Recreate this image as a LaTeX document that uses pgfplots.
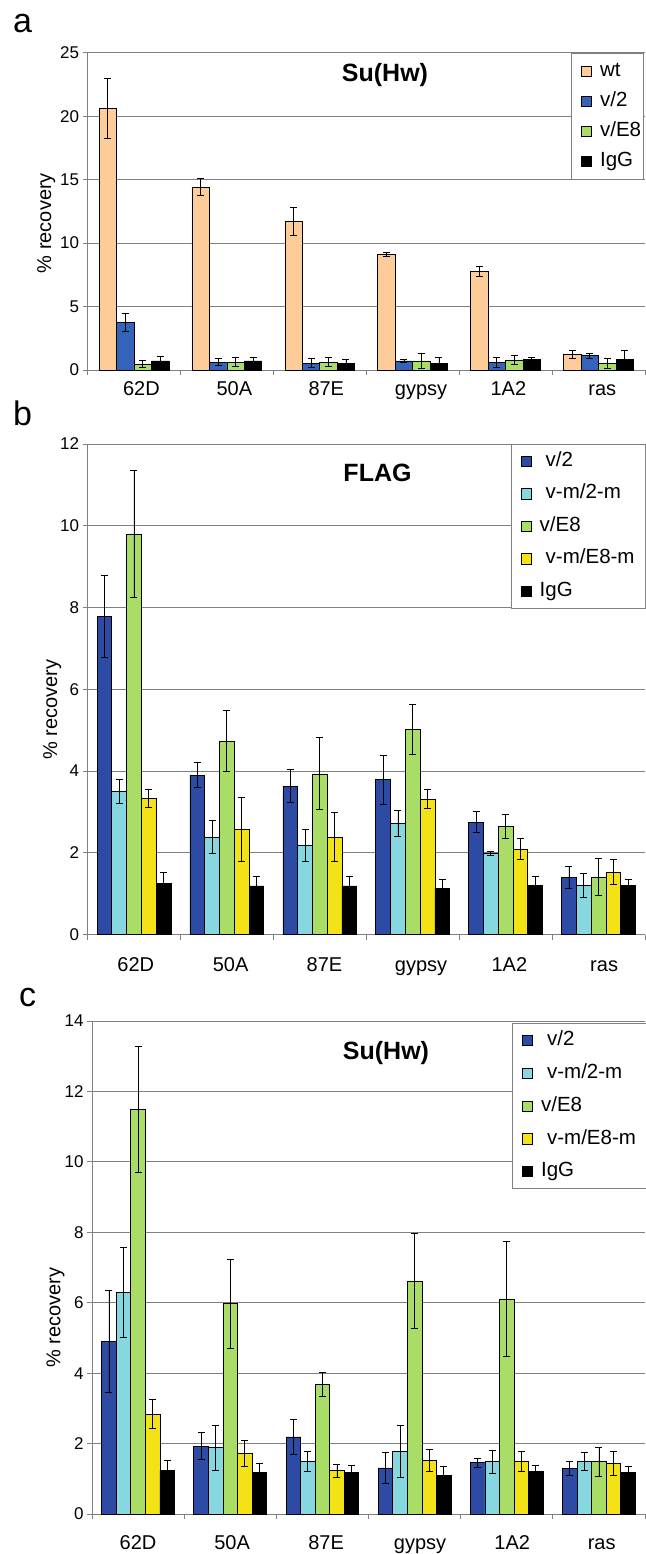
\documentclass[border=0pt]{standalone}
\usepackage{pgfplots}
\pgfplotsset{compat=1.18}
\usepackage{pgfplotstable}
\usepackage{fontspec}
\setmainfont{Liberation Sans}

\definecolor{peach}{RGB}{253,204,153}
\definecolor{blueA}{RGB}{52,100,185}
\definecolor{blueB}{RGB}{45,75,165}
\definecolor{cyanB}{RGB}{135,215,225}
\definecolor{greenB}{RGB}{170,221,102}
\definecolor{yellowB}{RGB}{242,226,22}
\definecolor{axgray}{RGB}{128,128,128}

\pgfplotstableread{
x  wt    wte  v2   v2e  vE   vEe  IgG  IgGe
0  20.60 2.35 3.74 0.70 0.47 0.29 0.71 0.37
1  14.41 0.67 0.63 0.26 0.63 0.38 0.71 0.30
2  11.71 1.14 0.55 0.38 0.63 0.34 0.55 0.26
3   9.11 0.15 0.71 0.14 0.71 0.58 0.55 0.42
4   7.77 0.42 0.63 0.39 0.79 0.38 0.84 0.13
5   1.21 0.33 1.13 0.18 0.53 0.40 0.84 0.70
}\tabA

\pgfplotstableread{
x v2 v2e vm vme vE vEe vmE vmEe IgG IgGe
0 7.78 1.00 3.50 0.29 9.80 1.56 3.33 0.22 1.25 0.27
1 3.90 0.31 2.38 0.40 4.73 0.75 2.57 0.78 1.19 0.23
2 3.63 0.41 2.18 0.39 3.93 0.88 2.38 0.60 1.19 0.23
3 3.79 0.60 2.72 0.31 5.01 0.61 3.31 0.23 1.12 0.23
4 2.75 0.25 1.98 0.05 2.65 0.29 2.09 0.26 1.21 0.20
5 1.39 0.27 1.20 0.30 1.41 0.46 1.53 0.31 1.20 0.15
}\tabB

\pgfplotstableread{
x v2 v2e vm vme vE vEe vmE vmEe IgG IgGe
0 4.89 1.45 6.29 1.27 11.49 1.80 2.84 0.41 1.24 0.29
1 1.93 0.39 1.89 0.64 5.97 1.27 1.72 0.36 1.18 0.26
2 2.19 0.51 1.49 0.28 3.67 0.34 1.23 0.18 1.18 0.20
3 1.31 0.44 1.78 0.75 6.62 1.35 1.53 0.31 1.09 0.25
4 1.46 0.13 1.49 0.33 6.11 1.64 1.49 0.28 1.21 0.17
5 1.29 0.20 1.49 0.26 1.49 0.41 1.44 0.33 1.18 0.16
}\tabC

\pgfplotsset{
  panel/.style={
    scale only axis, anchor=south west,
    xmin=-0.5, xmax=5.5, ymin=0,
    ybar=0pt,
    xticklabels={62D,50A,87E,gypsy,1A2,ras},
    minor xtick={-0.5,0.5,...,5.5},
    major x tick style={draw=none},
    minor x tick style={draw=axgray, line width=0.8pt},
    ytick style={draw=axgray, line width=0.8pt},
    major tick length=5pt, minor tick length=5pt,
    tick align=outside,
    axis x line*=bottom, axis y line*=left,
    axis line style={draw=axgray, line width=0.8pt},
    ymajorgrids,
    major grid style={draw=axgray, line width=0.8pt},
    /pgf/number format/assume math mode=true,
    yticklabel style={font=\fontsize{17}{20}\selectfont},
    xticklabel style={font=\fontsize{20}{24}\selectfont, inner sep=0pt, text height=14.4pt, text depth=4pt, anchor=north},
    ylabel={\% recovery},
    legend cell align=left,
    legend image code/.code={\draw[##1,draw=black,line width=0.7pt] (0pt,-5.2pt) rectangle (10.5pt,5.2pt);},
  },
  bars/.style={draw=black, line width=0.7pt, fill=#1,
     /pgfplots/error bars/y dir=both, /pgfplots/error bars/y explicit,
     /pgfplots/error bars/error bar style={black, line width=0.8pt},
     /pgfplots/error bars/error mark options={black, rotate=90, mark size=3.5pt, line width=0.8pt}},
}

\begin{document}
\begin{tikzpicture}
\useasboundingbox (0,0) rectangle (645pt,-1554pt);

% ---------- panel a ----------
\begin{axis}[panel,
  at={(87.5pt,-370pt)}, width=557.5pt, height=317.3pt,
  ymax=25, ytick={0,5,...,25},
  xtick={0.08,1.08,2.07,3.09,4.03,5.04},
  xticklabel style={yshift=-6pt},
  bar width=0.188,
  ylabel style={at={(rel axis cs:-0.074,0.463)}, anchor=center, font=\fontsize{20}{24}\selectfont},
  legend style={at={(0.8673,1)}, anchor=north west, draw=axgray, line width=0.8pt, fill=white,
    inner xsep=9.5pt, inner ysep=3pt, row sep=0pt, column sep=8pt,
    nodes={inner sep=0pt, text height=20.3pt, text depth=9.7pt}, font=\fontsize{20.5}{24}\selectfont},
]
\addplot[bars=peach] table[x=x, y=wt, y error=wte] {\tabA};
\addlegendentry{\makebox[34pt][l]{wt}}
\addplot[bars=blueA] table[x=x, y=v2, y error=v2e] {\tabA};
\addlegendentry{\makebox[34pt][l]{v/2}}
\addplot[bars=greenB] table[x=x, y=vE, y error=vEe] {\tabA};
\addlegendentry{\makebox[34pt][l]{v/E8}}
\addplot[bars=black] table[x=x, y=IgG, y error=IgGe] {\tabA};
\addlegendentry{\makebox[34pt][l]{IgG}}
\end{axis}

% ---------- panel b ----------
\begin{axis}[panel,
  at={(87.5pt,-934.5pt)}, width=557.5pt, height=490.5pt,
  ymax=12, ytick={0,2,...,12},
  xtick={0.02,1.04,2.05,3.09,4.04,5.06},
  xticklabel style={yshift=-17pt},
  bar width=0.159,
  ylabel style={at={(rel axis cs:-0.063,0.458)}, anchor=center, font=\fontsize{20}{24}\selectfont},
  legend style={at={(0.759,1)}, anchor=north west, draw=axgray, line width=0.8pt, fill=white,
    inner xsep=9.5pt, inner ysep=0.5pt, row sep=0pt, column sep=8pt,
    nodes={inner sep=0pt, text height=21.55pt, text depth=10.95pt}, font=\fontsize{20.5}{24}\selectfont},
]
\addplot[bars=blueB] table[x=x, y=v2, y error=v2e] {\tabB};
\addlegendentry{\makebox[96pt][l]{\hspace*{6pt}v/2}}
\addplot[bars=cyanB] table[x=x, y=vm, y error=vme] {\tabB};
\addlegendentry{\makebox[96pt][l]{\hspace*{6pt}v-m/2-m}}
\addplot[bars=greenB] table[x=x, y=vE, y error=vEe] {\tabB};
\addlegendentry{\makebox[96pt][l]{v/E8}}
\addplot[bars=yellowB] table[x=x, y=vmE, y error=vmEe] {\tabB};
\addlegendentry{\makebox[96pt][l]{\hspace*{6pt}v-m/E8-m}}
\addplot[bars=black] table[x=x, y=IgG, y error=IgGe] {\tabB};
\addlegendentry{\makebox[96pt][l]{IgG}}
\end{axis}

% ---------- panel c ----------
\begin{axis}[panel,
  at={(92pt,-1514pt)}, width=553pt, height=493pt,
  ymax=14, ytick={0,2,...,14},
  xtick={0.0,1.02,2.04,3.06,4.06,5.03},
  xticklabel style={yshift=-16pt},
  bar width=0.158,
  ylabel style={at={(rel axis cs:-0.066,0.398)}, anchor=center, font=\fontsize{20}{24}\selectfont},
  legend style={at={(0.7595,0.9953)}, anchor=north west, draw=axgray, line width=0.8pt, fill=white,
    inner xsep=9.5pt, inner ysep=0.5pt, row sep=0pt, column sep=8pt,
    nodes={inner sep=0pt, text height=21.7pt, text depth=11.05pt}, font=\fontsize{20.5}{24}\selectfont},
]
\addplot[bars=blueB] table[x=x, y=v2, y error=v2e] {\tabC};
\addlegendentry{\makebox[96pt][l]{\hspace*{6pt}v/2}}
\addplot[bars=cyanB] table[x=x, y=vm, y error=vme] {\tabC};
\addlegendentry{\makebox[96pt][l]{\hspace*{6pt}v-m/2-m}}
\addplot[bars=greenB] table[x=x, y=vE, y error=vEe] {\tabC};
\addlegendentry{\makebox[96pt][l]{v/E8}}
\addplot[bars=yellowB] table[x=x, y=vmE, y error=vmEe] {\tabC};
\addlegendentry{\makebox[96pt][l]{\hspace*{6pt}v-m/E8-m}}
\addplot[bars=black] table[x=x, y=IgG, y error=IgGe] {\tabC};
\addlegendentry{\makebox[96pt][l]{IgG}}
\end{axis}

% panel letters and titles
\node[font=\fontsize{34}{40}\selectfont] at (22.5pt,-24pt) {a};
\node[font=\fontsize{34}{40}\selectfont] at (22.5pt,-413pt) {b};
\node[font=\fontsize{34}{40}\selectfont] at (27.5pt,-998pt) {c};
\node[font=\fontsize{25}{30}\selectfont\bfseries] at (385pt,-75pt) {Su(Hw)};
\node[font=\fontsize{25}{30}\selectfont\bfseries] at (377.5pt,-473pt) {FLAG};
\node[font=\fontsize{25}{30}\selectfont\bfseries] at (386pt,-1053pt) {Su(Hw)};
\end{tikzpicture}
\end{document}
